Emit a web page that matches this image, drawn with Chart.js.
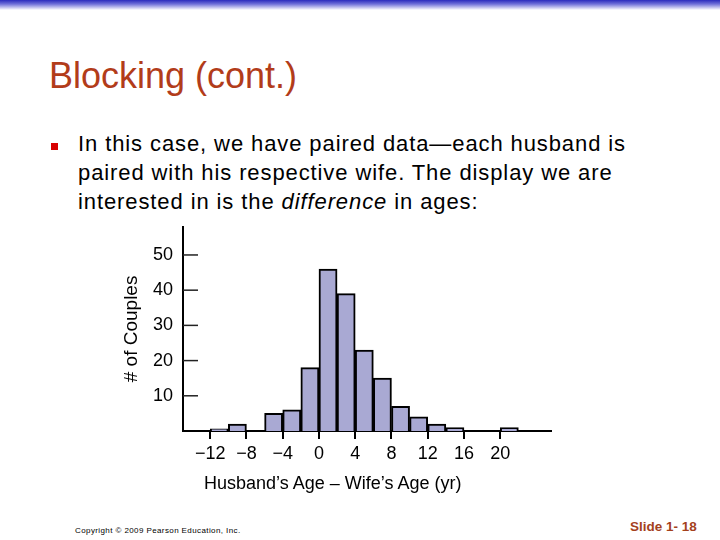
<!DOCTYPE html>
<html>
<head>
<meta charset="utf-8">
<script src="https://cdn.jsdelivr.net/npm/chart.js@4"></script>
<style>
  body { margin: 0; background: #fff; }
  #slide { position: relative; width: 720px; height: 540px; overflow: hidden; font-family: Arial, "Liberation Sans", sans-serif; }
  #topbar { position: absolute; left: 0; top: 0; width: 720px; height: 10px; background: linear-gradient(#2b2bbd 0%, #6f6fd8 40%, #fff 100%); }
  #title { position: absolute; left: 49px; top: 55px; font-size: 36px; color: #b23c1a; }
  #bullet { position: absolute; left: 51px; top: 143px; width: 7px; height: 7px; background: #d80000; }
  #body { position: absolute; left: 78px; top: 129px; width: 600px; font-size: 22px; letter-spacing: 0.9px; line-height: 29px; color: #000; }
  #wrap { position: absolute; left: 115px; top: 206px; }
  #xtitle { position: absolute; left: 204px; top: 473px; font-size: 18px; color: #000; }
  #copy { position: absolute; left: 75px; top: 526px; font-size: 8px; letter-spacing: 0.4px; color: #000; }
  #slideno { position: absolute; left: 630px; top: 519px; font-size: 13.5px; font-weight: bold; color: #a4411c; }
</style>
</head>
<body>
<div id="slide">
  <div id="topbar"></div>
  <div id="title">Blocking (cont.)</div>
  <div id="bullet"></div>
  <div id="body">In this case, we have paired data—each husband is<br>paired with his respective wife. The display we are<br>interested in is the <i>difference</i> in ages:</div>
  <div id="wrap"><canvas id="myChart" width="445" height="294"></canvas></div>
  <div id="xtitle">Husband’s Age – Wife’s Age (yr)</div>
  <div id="copy">Copyright © 2009 Pearson Education, Inc.</div>
  <div id="slideno">Slide 1- 18</div>
</div>
<script>
// bin centres (width 2 yr) and counts
const binCenters = [-11, -9, -7, -5, -3, -1, 1, 3, 5, 7, 9, 11, 13, 15, 17, 19, 21];
const counts     = [0.6, 2, 0, 5, 6, 18, 46, 39, 23, 15, 7, 4, 2, 1, 0, 0, 1];
const xTicks = [-12, -8, -4, 0, 4, 8, 12, 16, 20];
const yTicks = [10, 20, 30, 40, 50];

const points = binCenters.map((c, i) => ({ x: c, y: counts[i] }));

const axisFont = { family: 'Arial, "Liberation Sans", sans-serif', size: 18 };

// y ticks point inward, into the plot
const innerTicks = {
  id: 'innerTicks',
  afterDraw(chart) {
    const ctx = chart.ctx;
    const y = chart.scales.y;
    const left = chart.chartArea.left;
    ctx.save();
    ctx.strokeStyle = '#222';
    ctx.lineWidth = 1.5;
    yTicks.forEach(v => {
      const py = y.getPixelForValue(v);
      ctx.beginPath();
      ctx.moveTo(left, py);
      ctx.lineTo(left + 15, py);
      ctx.stroke();
    });
    ctx.restore();
  }
};

let ctx = document.getElementById('myChart').getContext('2d');
let myChart = new Chart(ctx, {
  type: 'bar',
  data: {
    datasets: [{
      data: points,
      backgroundColor: '#a9a9d3',
      borderColor: '#000',
      borderWidth: 2,
      borderSkipped: 'bottom',
      barPercentage: 1,
      categoryPercentage: 1
    }]
  },
  options: {
    responsive: false,
    animation: false,
    devicePixelRatio: 1,
    layout: { padding: { top: 7, right: 9, left: 0, bottom: 0 } },
    plugins: { legend: { display: false }, tooltip: { enabled: false } },
    scales: {
      x: {
        type: 'linear',
        min: -15,
        max: 25.6,
        offset: false,
        afterBuildTicks: s => { s.ticks = xTicks.map(v => ({ value: v })); },
        afterFit: s => { s.height = 69; },
        ticks: {
          font: axisFont,
          color: '#000',
          padding: 4,
          maxRotation: 0,
          autoSkip: false,
          callback: v => v < 0 ? '\u2212' + Math.abs(v) : String(v)
        },
        grid: { offset: false, drawOnChartArea: false, drawTicks: true, tickLength: 8, color: '#000', lineWidth: 2 },
        border: { display: true, color: '#000', width: 2 }
      },
      y: {
        min: 0,
        max: 58,
        afterBuildTicks: s => { s.ticks = yTicks.map(v => ({ value: v })); },
        afterFit: s => { s.width = 68; },
        ticks: { font: axisFont, color: '#000', padding: 10 },
        grid: { drawOnChartArea: false, drawTicks: false },
        border: { display: true, color: '#000', width: 2 },
        title: {
          display: true,
          text: '# of Couples',
          color: '#000',
          font: { family: 'Arial, "Liberation Sans", sans-serif', size: 19 },
          padding: { top: 5, bottom: 0 }
        }
      }
    }
  },
  plugins: [innerTicks]
});
</script>
</body>
</html>
